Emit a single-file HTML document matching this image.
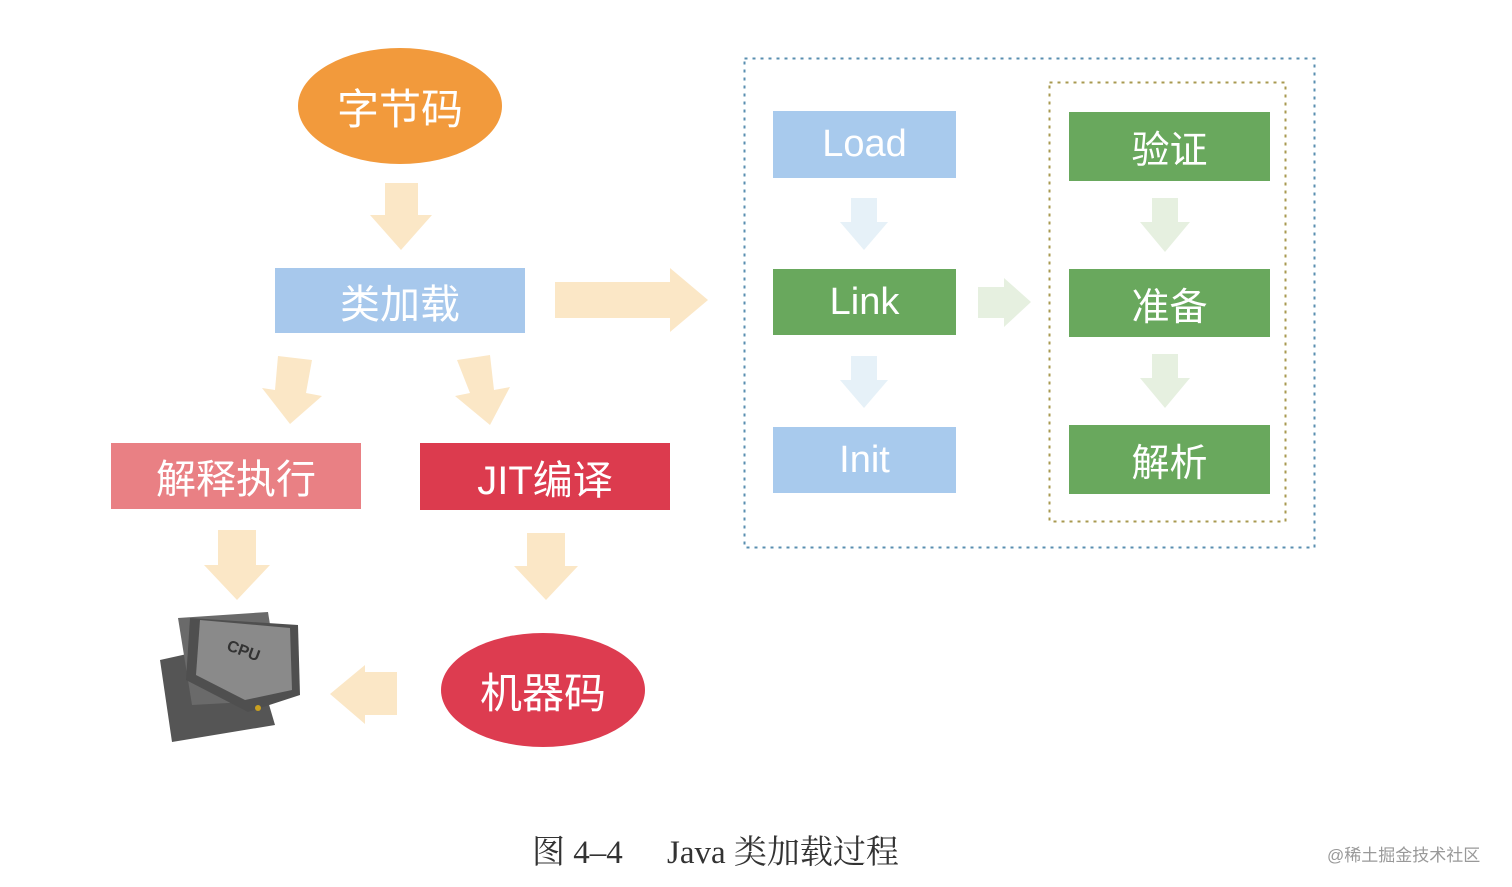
<!DOCTYPE html>
<html><head><meta charset="utf-8"><style>
body{margin:0;width:1512px;height:887px;background:#fff;overflow:hidden;position:relative;font-family:"Liberation Sans","Noto Sans CJK SC",sans-serif}
.b{position:absolute;color:#fff;display:flex;align-items:center;justify-content:center;font-size:40px}
.e{border-radius:50%}
.c{position:absolute;top:826px;font-family:'Liberation Serif','Noto Serif CJK SC',serif;font-size:33px;color:#333;white-space:pre}
</style></head><body>
<svg width="1512" height="887" style="position:absolute;left:0;top:0">
<g fill="#fbe7c6">
<polygon points="385,183 418,183 418,215 432,215 401,250 370,215 385,215"/>
<polygon points="555,282 670,282 670,268 708,300 670,332 670,318 555,318"/>
<polygon points="278,356 312,360 306,393 322,396 290,424 262,388 275,390"/>
<polygon points="457,360 490,355 494,390 510,387 490,425 455,396 470,393"/>
<polygon points="218,530 256,530 256,565 270,565 237,600 204,565 218,565"/>
<polygon points="527,533 565,533 565,566 578,566 546,600 514,566 527,566"/>
<polygon points="397,672 397,715 365,715 365,724 330,694 365,665 365,672"/>
</g>
<g fill="#e6f1f8">
<polygon points="851,198 877,198 877,222 888,222 864,250 840,222 851,222"/>
<polygon points="851,356 877,356 877,380 888,380 864,408 840,380 851,380"/>
</g>
<g fill="#e6f0e0">
<polygon points="1152,198 1178,198 1178,222 1190,222 1165,252 1140,222 1152,222"/>
<polygon points="1152,354 1178,354 1178,378 1190,378 1165,408 1140,378 1152,378"/>
<polygon points="978,287 1004,287 1004,278 1031,302 1004,327 1004,318 978,318"/>
</g>
<rect x="744.5" y="58.5" width="570" height="489" fill="none" stroke="#5a8fb0" stroke-width="2" stroke-dasharray="3,5"/>
<rect x="1049.5" y="82.5" width="236" height="439" fill="none" stroke="#a89a50" stroke-width="2" stroke-dasharray="3,5"/>
<g>
<polygon points="160,660 250,640 275,725 172,742" fill="#555"/>
<polygon points="178,618 268,612 282,700 192,705" fill="#6a6a6a"/>
<polygon points="190,618 298,625 300,695 248,712 186,680" fill="#4f4f4f"/>
<polygon points="200,620 290,628 292,690 245,700 196,675" fill="#8a8a8a"/>
<text x="225" y="655" font-size="16" font-weight="bold" fill="#333" transform="rotate(20 240 655)">CPU</text>
<circle cx="258" cy="708" r="3" fill="#c9a020"/>
</g>
</svg>
<div class="b e" style="left:298px;top:48px;width:204px;height:116px;background:#f29a3c;font-size:42px">字节码</div>
<div class="b" style="left:275px;top:268px;width:250px;height:65px;background:#a7c8ec">类加载</div>
<div class="b" style="left:111px;top:443px;width:250px;height:66px;background:#e98084">解释执行</div>
<div class="b" style="left:420px;top:443px;width:250px;height:67px;background:#dc3b4e">JIT编译</div>
<div class="b e" style="left:441px;top:633px;width:204px;height:114px;background:#dd3c50;font-size:42px">机器码</div>
<div class="b" style="left:773px;top:111px;width:183px;height:67px;background:#a8caed;font-size:38px">Load</div>
<div class="b" style="left:773px;top:269px;width:183px;height:66px;background:#69a85d;font-size:38px">Link</div>
<div class="b" style="left:773px;top:427px;width:183px;height:66px;background:#a8caed;font-size:38px">Init</div>
<div class="b" style="left:1069px;top:112px;width:201px;height:69px;background:#69a85d;font-size:38px">验证</div>
<div class="b" style="left:1069px;top:269px;width:201px;height:68px;background:#69a85d;font-size:38px">准备</div>
<div class="b" style="left:1069px;top:425px;width:201px;height:69px;background:#69a85d;font-size:38px">解析</div>
<div class="c" style="left:532px">图 4–4</div>
<div class="c" style="left:667px">Java 类加载过程</div>
<div style="position:absolute;left:1327px;top:841px;font-size:17px;color:#999">@稀土掘金技术社区</div>
</body></html>
